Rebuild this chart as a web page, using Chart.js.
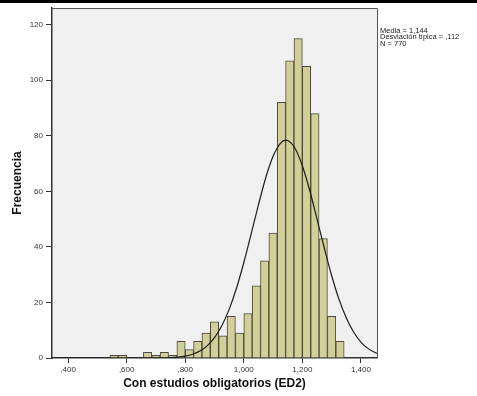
<!DOCTYPE html>
<html>
<head>
<meta charset="utf-8">
<script src="https://cdn.jsdelivr.net/npm/chart.js@4"></script>
<style>
  html, body { margin: 0; padding: 0; background: #fff; }
  #wrap { position: relative; width: 477px; height: 396px; }
</style>
</head>
<body>
<div id="wrap"><canvas id="hist"></canvas></div>
<script>
// histogram bins (centre of each bin) and counts
const binCenters = [0.5571, 0.5857, 0.6143, 0.6429, 0.6714, 0.7000, 0.7286, 0.7571, 0.7857, 0.8143,
                    0.8429, 0.8714, 0.9000, 0.9286, 0.9571, 0.9857, 1.0143, 1.0429, 1.0714, 1.1000,
                    1.1286, 1.1571, 1.1857, 1.2143, 1.2429, 1.2714, 1.3000, 1.3286];
const binCounts  = [1, 1, 0, 0, 2, 1, 2, 1, 6, 3,
                    6, 9, 13, 8, 15, 9, 16, 26, 35, 45,
                    92, 107, 115, 105, 88, 43, 15, 6];

// normal curve
const curveX = [0.35, 0.60, 0.70, 0.725, 0.75, 0.775, 0.80, 0.825, 0.85, 0.875, 0.90, 0.925, 0.95, 0.975,
                1.00, 1.025, 1.05, 1.075, 1.10, 1.125, 1.144, 1.15, 1.175, 1.20, 1.225, 1.25, 1.275,
                1.30, 1.325, 1.35, 1.375, 1.40, 1.425, 1.45, 1.46];
const curveY = [0, 0, 0.03, 0.07, 0.16, 0.34, 0.7, 1.36, 2.5, 4.38, 7.31, 11.6, 17.5, 25.1,
                34.3, 44.6, 55.1, 64.9, 72.6, 77.3, 78.4, 78.3, 75.5, 69.2, 60.4, 50.1, 39.6,
                29.7, 21.2, 14.5, 9.35, 5.75, 3.37, 1.88, 1.5];

const xTickValues = [0.4, 0.6, 0.8, 1.0, 1.2, 1.4];
const xTickLabels = [',400', ',600', ',800', '1,000', '1,200', '1,400'];
const yTickValues = [0, 20, 40, 60, 80, 100, 120];
const statLines = ['Media = 1,144', 'Desviación típica = ,112', 'N = 770'];

const FONT = '"Liberation Sans", Arial, sans-serif';

const panel = {
  id: 'panel',
  beforeDraw(chart) {
    const { ctx, chartArea: a } = chart;
    ctx.save();
    ctx.fillStyle = '#000';
    ctx.fillRect(0, 0, chart.width, 3);
    ctx.fillStyle = '#f0f0f0';
    ctx.fillRect(a.left, a.top, a.right - a.left, a.bottom - a.top);
    ctx.restore();
  },
  afterDraw(chart) {
    const { ctx, chartArea: a } = chart;
    ctx.save();
    ctx.strokeStyle = '#555';
    ctx.lineWidth = 1;
    ctx.beginPath();
    ctx.moveTo(a.left, a.top + 0.5);
    ctx.lineTo(a.right + 0.5, a.top + 0.5);
    ctx.lineTo(a.right + 0.5, a.bottom);
    ctx.stroke();
    // stats box text
    ctx.fillStyle = '#222';
    ctx.font = '7.5px ' + FONT;
    ctx.textBaseline = 'alphabetic';
    statLines.forEach((t, i) => ctx.fillText(t, a.right + 3, 33 + i * 6.3));
    ctx.restore();
  }
};

new Chart(document.getElementById('hist'), {
  type: 'bar',
  data: {
    datasets: [
      {
        type: 'line',
        data: curveX.map((x, i) => ({ x, y: curveY[i] })),
        borderColor: '#1c1c1c',
        borderWidth: 1.2,
        pointRadius: 0,
        tension: 0.4,
        cubicInterpolationMode: 'monotone',
        order: 0,
      },
      {
        data: binCenters.map((x, i) => ({ x, y: binCounts[i] })),
        backgroundColor: '#d3cf99',
        borderColor: '#4a4a3c',
        borderWidth: 1,
        barPercentage: 1.0,
        categoryPercentage: 1.0,
        order: 1,
      }
    ]
  },
  options: {
    responsive: true,
    maintainAspectRatio: false,
    animation: false,
    layout: { padding: { left: 0, top: 8, right: 100, bottom: 0 } },
    plugins: { legend: { display: false }, tooltip: { enabled: false } },
    scales: {
      x: {
        type: 'linear',
        min: 0.345,
        max: 1.455,
        offset: false,
        afterBuildTicks: s => { s.ticks = xTickValues.map(v => ({ value: v })); },
        afterFit: s => { s.height = 38; },
        grid: { display: true, drawOnChartArea: false, drawTicks: true, tickLength: 5, color: '#333', offset: false },
        border: { display: true, color: '#333', width: 1.5 },
        ticks: {
          padding: 2,
          color: '#333',
          font: { family: FONT, size: 8 },
          maxRotation: 0,
          callback: v => { const i = xTickValues.findIndex(t => Math.abs(t - v) < 1e-6); return i >= 0 ? xTickLabels[i] : ''; }
        },
        title: {
          display: true,
          text: 'Con estudios obligatorios (ED2)',
          color: '#111',
          font: { family: FONT, size: 12, weight: 'bold', lineHeight: 1.2 },
          padding: { top: 0, bottom: 5 }
        }
      },
      y: {
        min: 0,
        max: 126,
        afterBuildTicks: s => { s.ticks = yTickValues.map(v => ({ value: v })); },
        afterFit: s => { s.width = 52; },
        grid: { display: true, drawOnChartArea: false, drawTicks: true, tickLength: 6, color: '#333' },
        border: { display: true, color: '#333', width: 1.5 },
        ticks: {
          padding: 3,
          color: '#333',
          font: { family: FONT, size: 8 }
        },
        title: {
          display: true,
          text: 'Frecuencia',
          color: '#111',
          font: { family: FONT, size: 12, weight: 'bold', lineHeight: 1.2 },
          padding: { top: 10, bottom: 0 }
        }
      }
    }
  },
  plugins: [panel]
});
</script>
</body>
</html>
